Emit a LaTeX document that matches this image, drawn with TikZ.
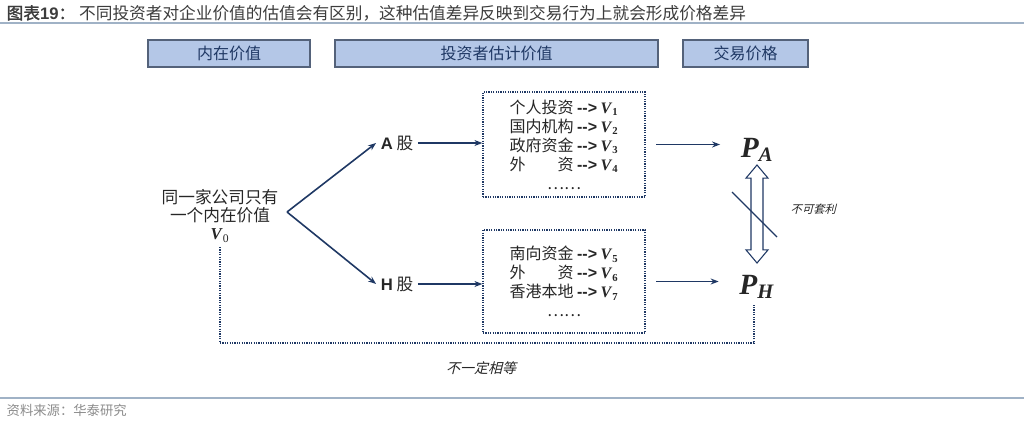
\documentclass[tikz,border=0pt]{standalone}
\usepackage{fontspec}
\setmainfont{Liberation Serif}
\setsansfont{Liberation Sans}
\newfontfamily\cjk[AutoFakeBold=1.5]{Noto Sans CJK SC}
\newfontfamily\cjkit[FakeSlant=0.25]{Noto Sans CJK SC}
\usetikzlibrary{arrows.meta,shapes.arrows}
\definecolor{navy}{RGB}{31,56,100}
\definecolor{hdrfill}{RGB}{180,199,231}
\definecolor{hdrline}{RGB}{84,98,122}
\definecolor{titlegray}{RGB}{60,60,60}
\definecolor{rulegray}{RGB}{160,178,198}
\definecolor{srcgray}{RGB}{140,140,140}
\definecolor{ink}{RGB}{38,38,38}
\newcommand{\bv}[2]{{\rmfamily\textbf{\textit{#1}}\textsubscript{\textbf{#2}}}}
\newcommand{\arr}{{\sffamily\bfseries -{}-{}>}}
\begin{document}
\begin{tikzpicture}[x=0.75pt,y=-0.75pt,
    hdr/.style={draw=hdrline, fill=hdrfill, line width=1pt, minimum height=20.25pt,
        text=navy, font=\cjk\fontsize{12}{14}\selectfont},
    body/.style={text=ink, font=\cjk\fontsize{12.5}{13.5}\selectfont},
    flow/.style={draw=navy, line width=1.2pt, -{Stealth[length=6pt,width=4.5pt]}},
    dotbox/.style={draw=navy, dash pattern=on 0.9pt off 0.9pt, line width=0.9pt,
        minimum width=121.5pt, align=center, text=ink,
        font=\cjk\fontsize{12}{14.25}\selectfont},
    dotline/.style={draw=navy, dash pattern=on 0.9pt off 0.9pt, line width=0.9pt},
    price/.style={text=ink, font=\rmfamily\fontsize{22}{24}\selectfont}]
\useasboundingbox (0,0) rectangle (1024,421);
\node[anchor=west, text=titlegray, font=\fontsize{12.5}{14}\selectfont] (title) at (2,13)
    {{\cjk\bfseries 图表}{\sffamily\bfseries 19}{\cjk\bfseries ：}\hspace{3pt}{\cjk 不同投资者对企业价值的估值会有区别，这种估值差异反映到交易行为上就会形成价格差异}};
\draw[rulegray, line width=0.8pt] (0,23) -- (1024,23);
\node[hdr, minimum width=121.5pt] (hIntr) at (229,53.5) {内在价值};
\node[hdr, minimum width=242.25pt] (hEst) at (496.5,53.5) {投资者估计价值};
\node[hdr, minimum width=93.75pt] (hPrice) at (745.5,53.5) {交易价格};
\node[body, align=center] (firm) at (220,216) {同一家公司只有\\一个内在价值\\{\rmfamily\textbf{\textit{V}}\textsubscript{0}}};
\coordinate (fork) at (287,212);
\node[body] (aShare) at (397,143) {{\sffamily\bfseries A} 股};
\node[body] (hShare) at (397,284) {{\sffamily\bfseries H} 股};
\node[dotbox, minimum height=78.75pt] (aBox) at (564,144.5)
    {个人投资 \arr\ \bv{V}{1}\\国内机构 \arr\ \bv{V}{2}\\政府资金 \arr\ \bv{V}{3}\\外　　资 \arr\ \bv{V}{4}\\……};
\node[dotbox, minimum height=77.25pt] (hBox) at (564,281.5)
    {南向资金 \arr\ \bv{V}{5}\\外　　资 \arr\ \bv{V}{6}\\香港本地 \arr\ \bv{V}{7}\\……};
\node[price] (pA) at (757,150) {\textbf{\textit{P}}\textsubscript{\textbf{\textit{A}}}};
\node[price] (pH) at (757,287) {\textbf{\textit{P}}\textsubscript{\textbf{\textit{H}}}};
\draw[flow] (fork) -- (aShare.west);
\draw[flow] (fork) -- (hShare.west);
\draw[flow] (aShare) -- (aShare -| aBox.west);
\draw[flow] (hShare) -- (hShare -| hBox.west);
\draw[flow, shorten <=8pt, shorten >=12pt] (aBox) -- (aBox -| pA.west);
\draw[flow, shorten <=8pt, shorten >=12pt] (hBox) -- (hBox -| pH.west);
\node[double arrow, draw=navy, fill=white, line width=0.8pt, rotate=90, inner xsep=0pt,
    inner ysep=4.1pt, minimum height=73.5pt, double arrow head extend=3.75pt,
    double arrow tip angle=80] (noArb) at (757,214) {};
\draw[navy, line width=0.9pt] ([shift={(-25,-22)}]noArb.center) -- ([shift={(20,23)}]noArb.center);
\node[anchor=west, text=ink, font=\cjkit\fontsize{8.5}{9}\selectfont] (noArbTxt) at (786,209) {不可套利};
\coordinate (bend) at (220,343);
\draw[dotline] (firm.south) -- (bend) -| ([xshift=-2.25pt]pH.south);
\node[text=ink, font=\cjkit\fontsize{10.5}{12}\selectfont] (neq) at (481,368) {不一定相等};
\draw[rulegray, line width=0.8pt] (0,398) -- (1024,398);
\node[anchor=west, text=srcgray, font=\cjk\fontsize{10}{12}\selectfont] (src) at (2,410) {资料来源：华泰研究};
\end{tikzpicture}
\end{document}
